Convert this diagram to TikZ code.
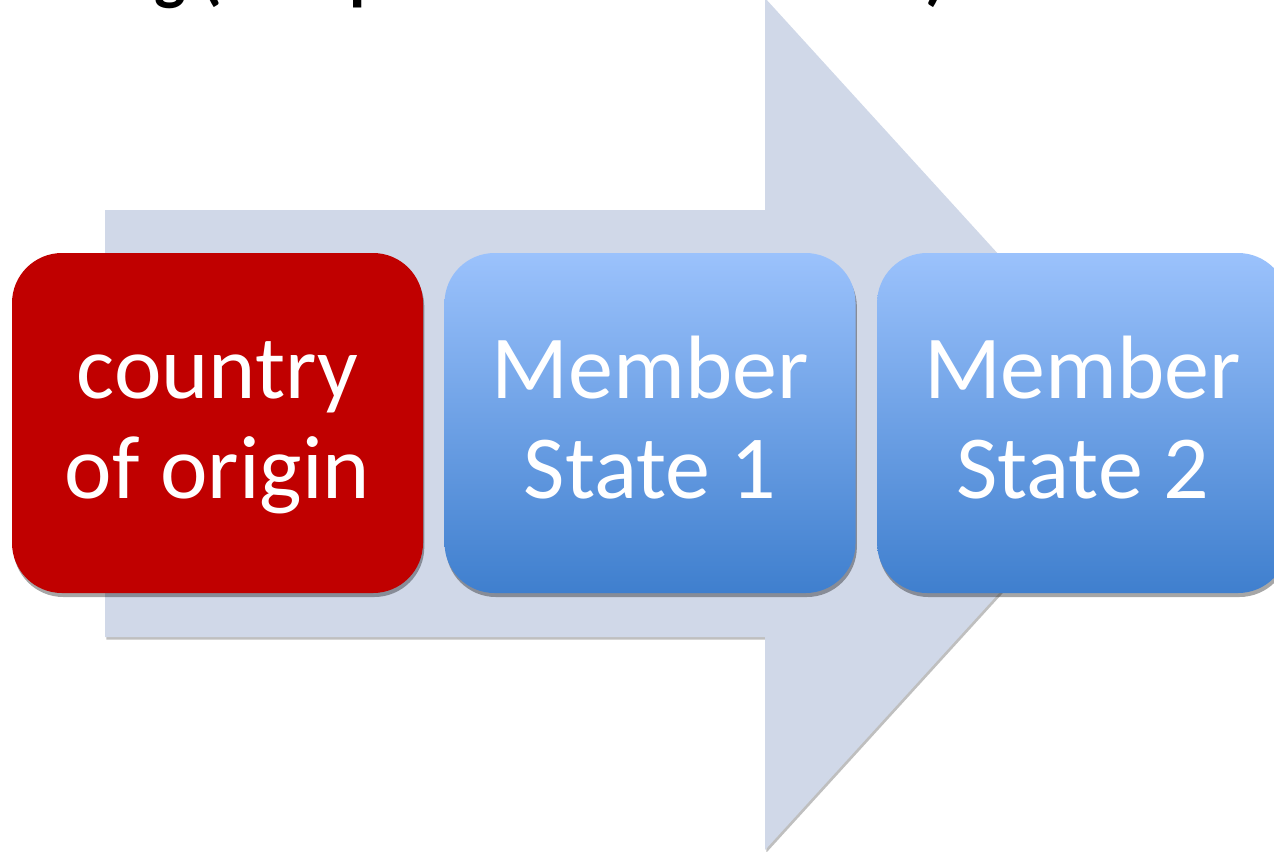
\documentclass[tikz,border=0pt]{standalone}
\usepackage{fontspec}
\setmainfont{Carlito}
\usetikzlibrary{positioning,shadows}

\definecolor{arrowgray}{RGB}{208,216,232}
\definecolor{origred}{RGB}{192,0,0}
\definecolor{statetop}{RGB}{155,194,252}
\definecolor{statebot}{RGB}{63,127,206}

% two lines, with fixed height on top and fixed depth below
\newcommand{\twolines}[2]{\rule{0pt}{55pt}#1\\#2\rule[-17.5pt]{0pt}{17.5pt}}

\tikzset{
  stepbox/.style={rounded corners=37.5pt, minimum width=308.25pt, minimum height=255pt,
    inner sep=0pt, align=center, text=white, font=\fontsize{67.5}{75}\selectfont,
    drop shadow={shadow xshift=1pt, shadow yshift=-3pt, opacity=0.35, fill=black}},
  originbox/.style={stepbox, fill=origred},
  memberbox/.style={stepbox, top color=statetop, bottom color=statebot},
}

\begin{document}
\begin{tikzpicture}[x=0.75pt,y=0.75pt,yscale=-1,xscale=1]
\useasboundingbox (0,0) rectangle (1274,851);
\clip (0,0) rectangle (1274,851);

% Title (cut off by the top edge)
\node [anchor=base east, inner sep=0pt, font=\fontsize{50}{54}\selectfont\bfseries] (title) at (946,-3) {Trafficking (European Member States)};

%Shape: Right Arrow
\fill [arrowgray, drop shadow={shadow xshift=1pt, shadow yshift=-2pt, opacity=0.25, fill=black}]
  (105,210) -- (765,210) -- (765,-2) -- (1153,424) -- (765,850) -- (765,637) -- (105,637) -- cycle ;

%Shapes: Rounded Rectangles
\node [originbox] (origin) at (217.5,423) {\twolines{country}{of origin}};
\node [memberbox, right=15.75pt of origin] (ms1) {\twolines{Member}{State 1}};
\node [memberbox, right=15.75pt of ms1] (ms2) {\twolines{Member}{State 2}};

\end{tikzpicture}
\end{document}
